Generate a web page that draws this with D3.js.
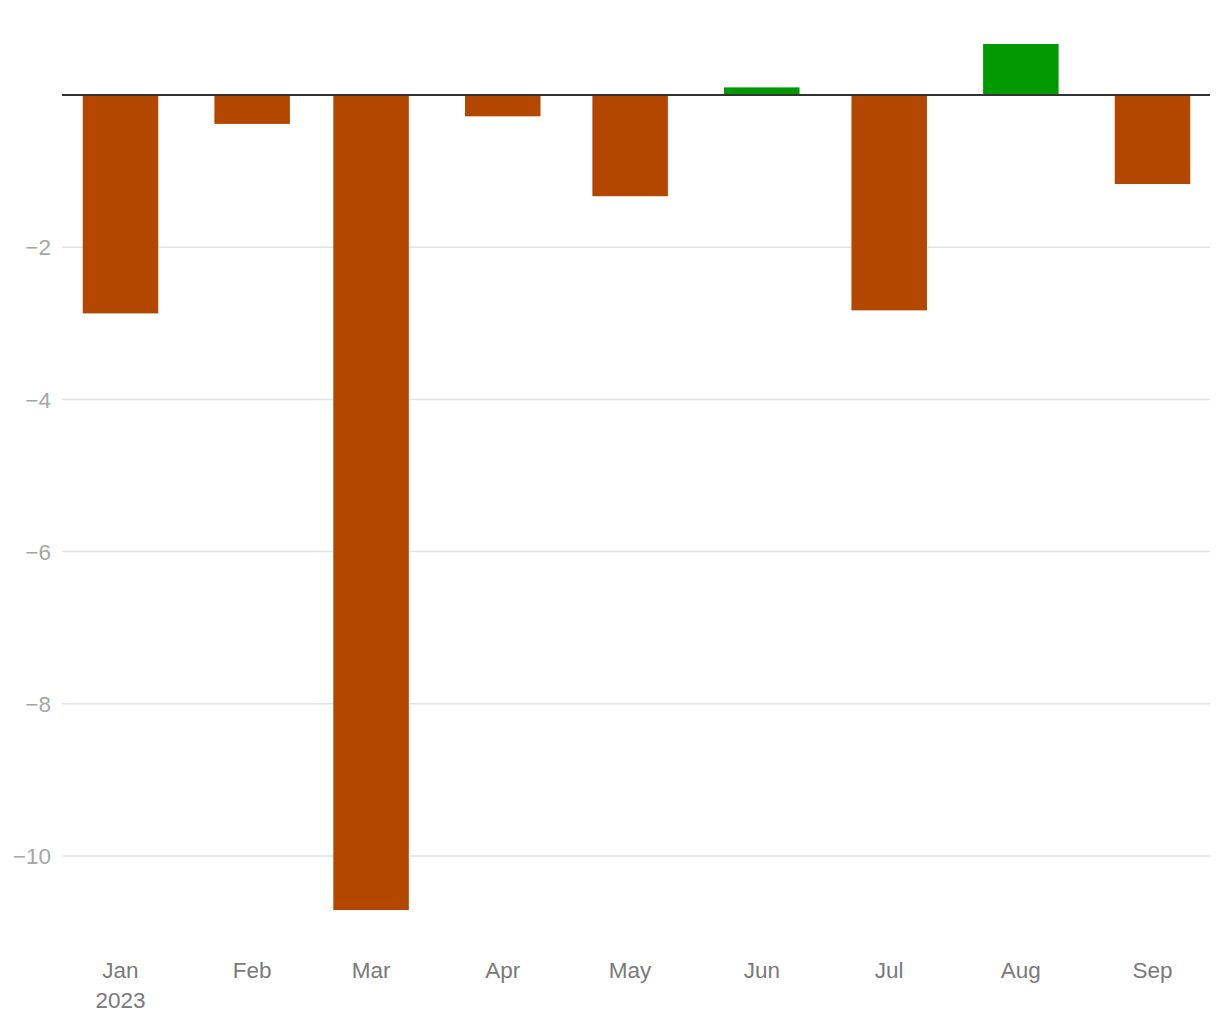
<!DOCTYPE html>
<html><head><meta charset="utf-8">
<script src="https://cdn.jsdelivr.net/npm/d3@7"></script>
<style>body{margin:0;background:#fff}svg{display:block}text{font-family:"Liberation Sans",Arial,Helvetica,sans-serif}</style>
</head><body><svg id="c" width="1220" height="1020"></svg>
<script>
const months = ["2023-01-01","2023-02-01","2023-03-01","2023-04-01","2023-05-01","2023-06-01","2023-07-01","2023-08-01","2023-09-01"];
const values = [-2.87,-0.38,-10.71,-0.28,-1.33,0.1,-2.83,0.67,-1.17];
const yTicks = [-10,-8,-6,-4,-2];
const posColor = "#009900", negColor = "#b34700";

const parse = d3.timeParse("%Y-%m-%d");
const dates = months.map(parse);
const svg = d3.select("#c");
const left = 62, right = 1210;
const x = d3.scaleTime().domain([dates[0], dates[dates.length-1]]).range([120.5, 1152.5]);
const y = d3.scaleLinear().domain([0, -10]).range([95, 856]);
const barW = 75.5;

svg.append("g").selectAll("line").data(yTicks).join("line")
  .attr("x1", left).attr("x2", right)
  .attr("y1", d=>y(d)).attr("y2", d=>y(d))
  .attr("stroke", "#e3e3e3").attr("stroke-width", 1.5);

svg.append("g").selectAll("text").data(yTicks).join("text")
  .attr("x", 51).attr("y", d=>y(d)).attr("dy", "0.36em")
  .attr("text-anchor", "end").attr("fill", "#a6a6a6").attr("font-size", 22.5)
  .text(d=>"\u2212" + Math.abs(d));

svg.append("g").selectAll("rect").data(values).join("rect")
  .attr("x", (d,i)=>x(dates[i]) - barW/2).attr("width", barW)
  .attr("y", d=>Math.min(y(0), y(d))).attr("height", d=>Math.abs(y(d)-y(0)))
  .attr("fill", d=> d >= 0 ? posColor : negColor);

svg.append("line").attr("x1", left).attr("x2", right)
  .attr("y1", y(0)).attr("y2", y(0)).attr("stroke", "#333").attr("stroke-width", 2);

const fmt = d3.timeFormat("%b");
svg.append("g").selectAll("text").data(dates).join("text")
  .attr("x", d=>x(d)).attr("y", 978)
  .attr("text-anchor", "middle").attr("fill", "#7a7a7a").attr("font-size", 22.5)
  .text(d=>fmt(d));
svg.append("text").attr("x", x(dates[0])).attr("y", 1008)
  .attr("text-anchor", "middle").attr("fill", "#7a7a7a").attr("font-size", 22.5)
  .text(d3.timeFormat("%Y")(dates[0]));
</script></body></html>
